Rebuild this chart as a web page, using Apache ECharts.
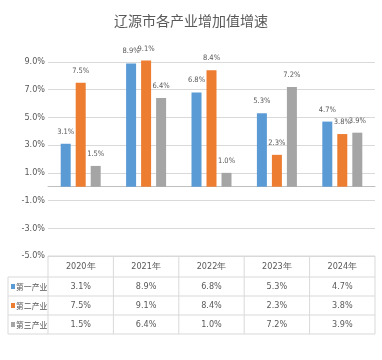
<!DOCTYPE html>
<html><head><meta charset="utf-8">
<script src="https://cdn.jsdelivr.net/npm/echarts@6/dist/echarts.min.js"></script>
<style>html,body{margin:0;padding:0;background:#fff}#c{width:382px;height:360px}</style>
</head><body><div id="c"></div>
<script>
const categories = ['2020年','2021年','2022年','2023年','2024年'];
const seriesNames = ['第一产业','第二产业','第三产业'];
const primaryValues = [3.1, 8.9, 6.8, 5.3, 4.7];
const secondaryValues = [7.5, 9.1, 8.4, 2.3, 3.8];
const tertiaryValues = [1.5, 6.4, 1.0, 7.2, 3.9];
const seriesValues = [primaryValues, secondaryValues, tertiaryValues];
const colors = ['#5B9BD5', '#ED7D31', '#A5A5A5'];
const yMin = -5, yMax = 9, yStep = 2;

(function () {
const NUM_FONT = '"Liberation Sans Narrow","DejaVu Sans Condensed",sans-serif';
const CJK_FONT = '"Noto Sans CJK SC",sans-serif';
const txt = '#595959';
const lineC = '#D9D9D9';
const fmt = v => Number(v).toFixed(1) + '%';

const chart = echarts.init(document.getElementById('c'), null, {renderer: 'canvas'});
const gridL = 48, gridR = 7, gridT = 62, gridB = 104;
chart.setOption({
  animation: false,
  backgroundColor: '#fff',
  title: {text: '辽源市各产业增加值增速', left: 'center', top: 9,
    textStyle: {fontFamily: CJK_FONT, fontSize: 14, fontWeight: 'normal', color: txt}},
  grid: {left: gridL, right: gridR, top: gridT, bottom: gridB, containLabel: false},
  xAxis: {type: 'category', data: categories,
    axisLine: {onZero: true, lineStyle: {color: '#BFBFBF'}},
    axisTick: {show: false}, axisLabel: {show: false}},
  yAxis: {type: 'value', min: yMin, max: yMax, interval: yStep,
    axisLine: {show: false}, axisTick: {show: false},
    axisLabel: {formatter: fmt, color: txt, fontFamily: NUM_FONT, fontSize: 9, margin: 3},
    splitLine: {lineStyle: {color: lineC}}},
  series: seriesValues.map((vals, i) => ({
    name: seriesNames[i], type: 'bar', data: vals, barWidth: 10, barGap: '50%',
    clip: false,
    itemStyle: {color: colors[i]},
    label: {show: true, position: 'top', distance: 8, formatter: p => fmt(p.value),
      color: txt, fontFamily: NUM_FONT, fontSize: 7.5}
  }))
});

const g = [];
const x0 = chart.convertToPixel({xAxisIndex: 0}, 0);
const x1 = chart.convertToPixel({xAxisIndex: 0}, 1);
const band = x1 - x0;
const tLeft = x0 - band / 2;
const tRight = tLeft + band * categories.length;
const tTop = chart.convertToPixel({yAxisIndex: 0}, yMin);
const rowH = [21, 19, 19, 19];
const rowY = [tTop];
rowH.forEach(h => rowY.push(rowY[rowY.length - 1] + h));
const labelLeft = 8;
const ls = {stroke: lineC, lineWidth: 1};
const line = (xa, ya, xb, yb) => g.push({type: 'line', shape: {x1: xa, y1: ya, x2: xb, y2: yb}, style: ls, silent: true});
line(tLeft, rowY[0], tRight, rowY[0]);
for (let r = 1; r < rowY.length; r++) line(labelLeft, rowY[r], tRight, rowY[r]);
line(labelLeft, rowY[1], labelLeft, rowY[4]);
for (let c = 0; c <= categories.length; c++) line(tLeft + c * band, rowY[0], tLeft + c * band, rowY[4]);
categories.forEach((cat, c) => {
  const cx = tLeft + (c + 0.5) * band;
  g.push({type: 'text', x: cx, y: (rowY[0] + rowY[1]) / 2, style: {text: cat, fill: txt,
    font: '9px ' + NUM_FONT, align: 'center', verticalAlign: 'middle'}});
  seriesValues.forEach((vals, s) => {
    g.push({type: 'text', x: cx, y: (rowY[s + 1] + rowY[s + 2]) / 2, style: {text: fmt(vals[c]), fill: txt,
      font: '9px ' + NUM_FONT, align: 'center', verticalAlign: 'middle'}});
  });
});
seriesNames.forEach((n, s) => {
  const cy = (rowY[s + 1] + rowY[s + 2]) / 2;
  g.push({type: 'rect', shape: {x: 11, y: cy - 2.5, width: 4, height: 5}, style: {fill: colors[s]}});
  g.push({type: 'text', x: 16, y: cy, scaleX: 0.92, style: {text: n, fill: txt,
    font: '8.5px ' + CJK_FONT, align: 'left', verticalAlign: 'middle'}});
});
chart.setOption({graphic: g});
})();
</script></body></html>
